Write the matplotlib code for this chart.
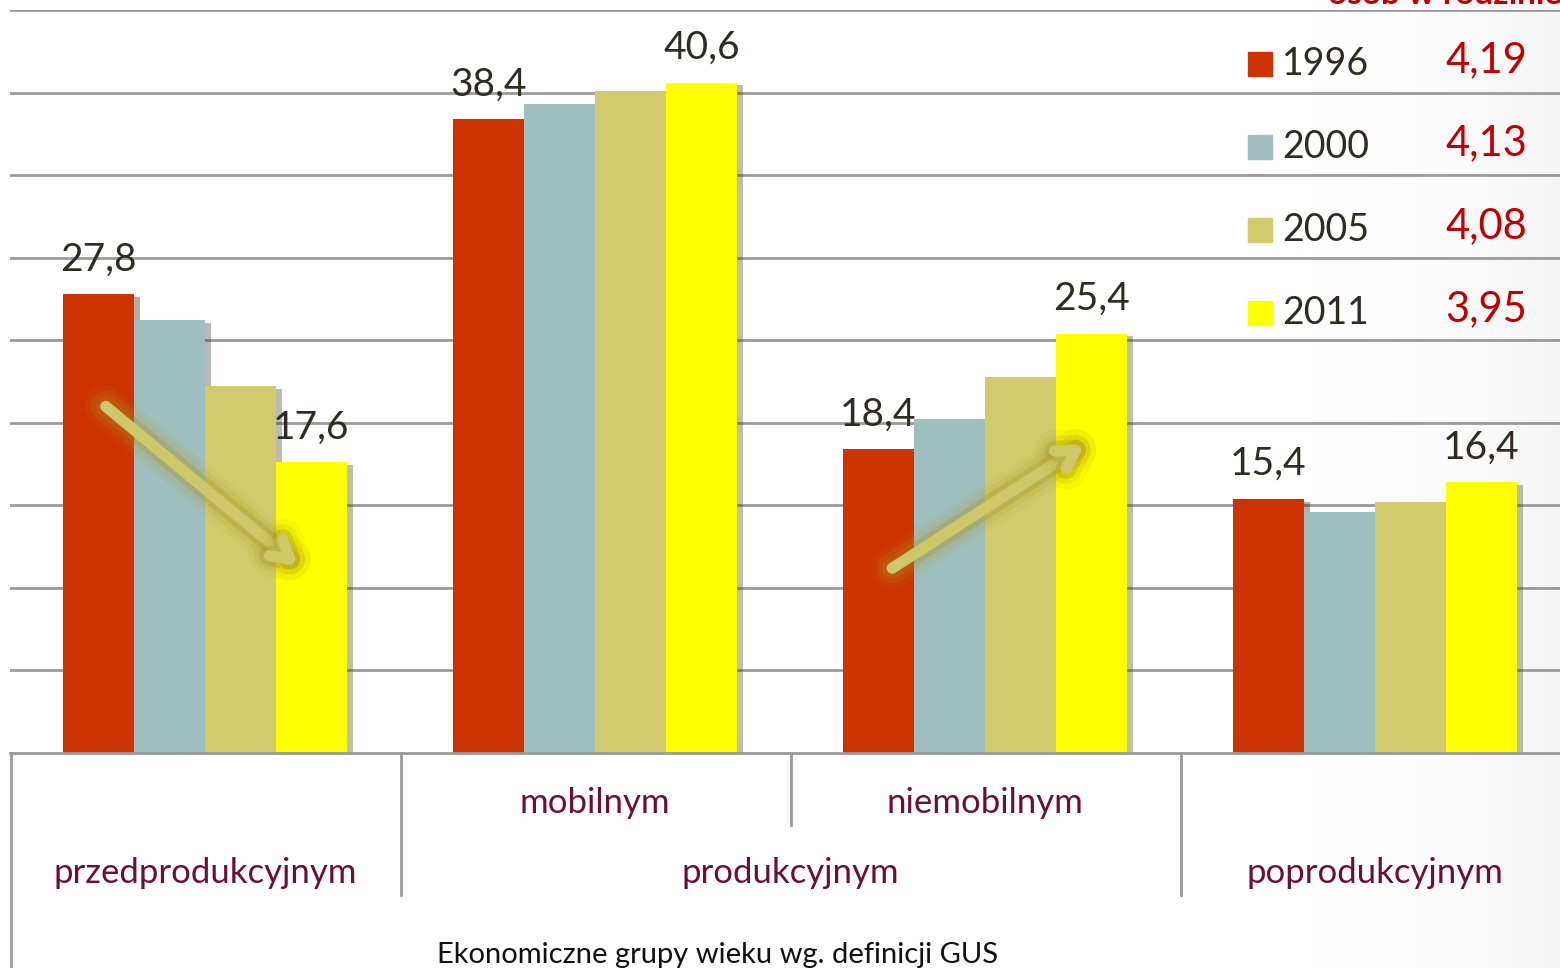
import matplotlib.pyplot as plt
import matplotlib.patheffects as pe
from matplotlib.patches import Rectangle
import numpy as np

plt.rcParams['font.family'] = ['Lato', 'DejaVu Sans']

# dane
grupy = ["przedprodukcyjnym", "mobilnym", "niemobilnym", "poprodukcyjnym"]
lata = ["1996", "2000", "2005", "2011"]
kolory = ["#CC3300", "#9FBFBF", "#D1CB6E", "#FFFF00"]
wartosci = {
    "1996": [27.8, 38.4, 18.4, 15.4],
    "2000": [26.2, 39.3, 20.2, 14.6],
    "2005": [22.2, 40.1, 22.8, 15.2],
    "2011": [17.6, 40.6, 25.4, 16.4],
}
osob_w_rodzinie = ["4,19", "4,13", "4,08", "3,95"]

W, H = 1560, 968
fig = plt.figure(figsize=(W / 100, H / 100), dpi=100)


def fx(px):
    return px / W


def fy(py):
    return 1 - py / H


# delikatne tlo slajdu (cien po prawej)
bg = fig.add_axes([0, 0, 1, 1], zorder=-10)
gx = np.linspace(0, 1, 400)
grad = np.clip((gx - 0.8) / 0.2, 0, 1) ** 2
bg.imshow(grad[None, :], aspect="auto", cmap="Greys", vmin=0, vmax=12,
          extent=[0, 1, 0, 1])
bg.set_axis_off()

ax = fig.add_axes([fx(10), fy(753), fx(1550), (753 - 10) / H])
ax.patch.set_alpha(0)
ax.set_xlim(-0.5, 3.5 - 10 / 390)
ax.set_ylim(0, 45)

# siatka
for v in np.arange(5, 46, 5):
    ax.axhline(v, color="#9a9a9a", lw=2, zorder=0)

szer = 71 / 390
x = np.arange(len(grupy))
for i, rok in enumerate(lata):
    pos = x + (i - 1.5) * szer
    bars = ax.bar(pos, wartosci[rok], width=szer, color=kolory[i], zorder=2,
                  linewidth=0)
    for b in bars:
        b.set_path_effects([pe.SimplePatchShadow(offset=(4, -2), alpha=0.35),
                            pe.Normal()])
    if i in (0, 3):
        for p, v in zip(pos, wartosci[rok]):
            ax.text(p, v + 1.0, f"{v:.1f}".replace(".", ","), ha="center",
                    va="bottom", fontsize=28, color="#2e2b22", zorder=3)

ax.set_xticks([])
ax.set_yticks([])
for s in ax.spines.values():
    s.set_visible(False)

# strzalki
glow = [pe.Stroke(linewidth=30, foreground="#b09a20", alpha=0.08),
        pe.Stroke(linewidth=22, foreground="#b09a20", alpha=0.14),
        pe.Stroke(linewidth=15, foreground="#a08a20", alpha=0.25),
        pe.Normal()]
for (x0, y0), (x1, y1) in [((-0.26, 21.1), (0.245, 11.2)),
                           ((1.756, 11.1), (2.262, 18.8))]:
    ax.annotate("", xy=(x1, y1), xytext=(x0, y0), zorder=4,
                arrowprops=dict(arrowstyle="->,head_length=1.3,head_width=0.75",
                                color="#CFC86A", lw=8, capstyle="round",
                                joinstyle="round", path_effects=glow))

# os kategorii (dwa poziomy)
lc = "#9a9a9a"
fig.add_artist(plt.Line2D([fx(10), 1], [fy(753), fy(753)], color=lc, lw=2))
for px, p_end in [(11, 968), (401, 895), (791, 825), (1181, 895)]:
    fig.add_artist(plt.Line2D([fx(px), fx(px)], [fy(753), fy(p_end)],
                              color=lc, lw=2))

kat = "#6B0F3A"
for xi, py in [(1, 803), (2, 803), (0, 873), (3, 873)]:
    fig.text(fx(10 + (xi + 0.5) * 390), fy(py), grupy[xi], ha="center",
             va="center", fontsize=25, color=kat)
fig.text(fx(790), fy(873), "produkcyjnym", ha="center", va="center",
         fontsize=25, color=kat)
fig.text(fx(718), fy(955), "Ekonomiczne grupy wieku wg. definicji GUS",
         ha="center", va="center", fontsize=21, color="#111111")

# legenda z liczba osob
for i, rok in enumerate(lata):
    yc = 64 + i * 83
    fig.add_artist(Rectangle((fx(1248), fy(yc + 12)), fx(24), 24 / H,
                             color=kolory[i], transform=fig.transFigure))
    fig.text(fx(1282), fy(yc), rok, ha="left", va="center", fontsize=27,
             color="#2e2b22")
    fig.text(fx(1527), fy(yc - 4), osob_w_rodzinie[i], ha="right",
             va="center", fontsize=30, color="#C00000")

fig.text(fx(1562), fy(4), "osób w rodzinie", ha="right", va="baseline",
         fontsize=24, fontweight="bold", color="#C00000")

fig.savefig("out.png", dpi=100)
